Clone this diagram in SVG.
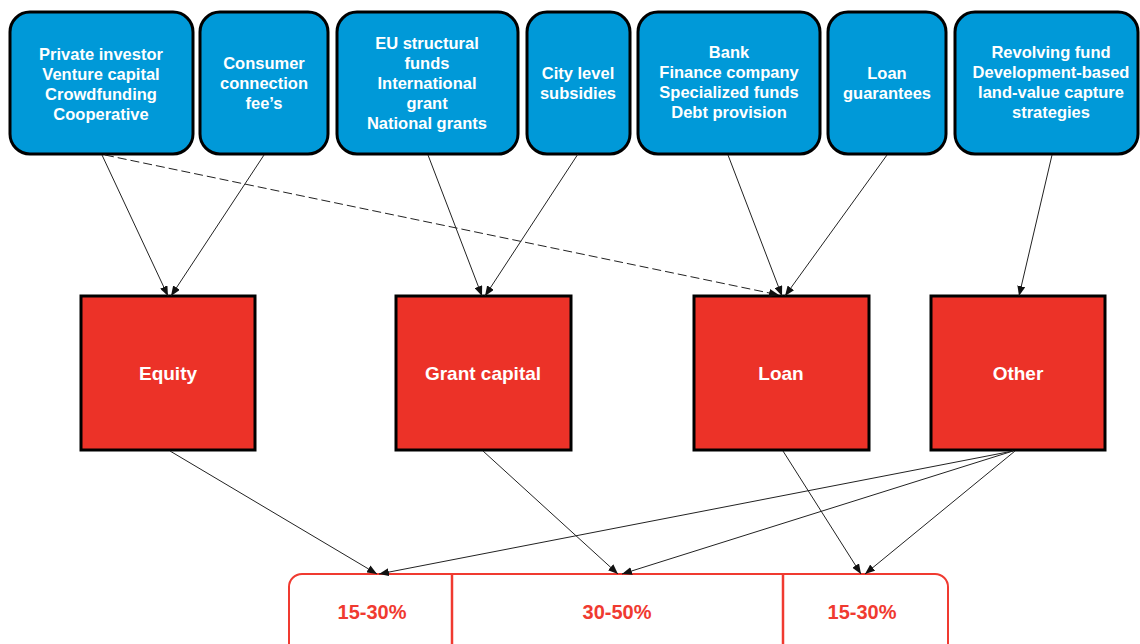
<svg xmlns="http://www.w3.org/2000/svg" width="1140" height="644" viewBox="0 0 1140 644">
<style>
.src rect{fill:#0099d8;stroke:#000;stroke-width:3}
.src text{fill:#fff;font-family:"Liberation Sans",Arial,sans-serif;font-weight:bold;font-size:16.5px;text-anchor:middle}
.cat rect{fill:#ec3228;stroke:#000;stroke-width:3}
.cat text{fill:#fff;font-family:"Liberation Sans",Arial,sans-serif;font-weight:bold;font-size:19px;text-anchor:middle}
.bar{fill:#fff;stroke:#f03a30;stroke-width:2}
.pct{fill:#f03a30;font-family:"Liberation Sans",Arial,sans-serif;font-weight:bold;font-size:20px;text-anchor:middle}
.conn line{stroke:#222;stroke-width:1;fill:none;marker-end:url(#ah)}
.conn .dash{stroke-dasharray:9 4}
</style>
<defs>
<marker id="ah" viewBox="0 0 10 8" refX="10" refY="4" markerWidth="10" markerHeight="8" orient="auto" markerUnits="userSpaceOnUse">
<path d="M0,0 L10,4 L0,8 Z" fill="#111"/>
</marker>
</defs>
<rect width="1140" height="644" fill="#fff"/>

<g id="src-private" class="src">
<rect x="10" y="12" width="183" height="142" rx="20"/>
<text x="101" y="60">Private investor</text>
<text x="101" y="80">Venture capital</text>
<text x="101" y="100">Crowdfunding</text>
<text x="101" y="120">Cooperative</text>
</g>
<g id="src-consumer" class="src">
<rect x="200" y="12" width="128" height="142" rx="20"/>
<text x="264" y="69">Consumer</text>
<text x="264" y="89">connection</text>
<text x="264" y="109">fee’s</text>
</g>
<g id="src-grants" class="src">
<rect x="337" y="12" width="181" height="142" rx="20"/>
<text x="427" y="49">EU structural</text>
<text x="427" y="69">funds</text>
<text x="427" y="89">International</text>
<text x="427" y="109">grant</text>
<text x="427" y="129">National grants</text>
</g>
<g id="src-city" class="src">
<rect x="527" y="12" width="103" height="142" rx="20"/>
<text x="578" y="79">City level</text>
<text x="578" y="99">subsidies</text>
</g>
<g id="src-bank" class="src">
<rect x="638" y="12" width="182" height="142" rx="20"/>
<text x="729" y="58">Bank</text>
<text x="729" y="78">Finance company</text>
<text x="729" y="98">Specialized funds</text>
<text x="729" y="118">Debt provision</text>
</g>
<g id="src-guarantees" class="src">
<rect x="828" y="12" width="118" height="142" rx="20"/>
<text x="887" y="79">Loan</text>
<text x="887" y="99">guarantees</text>
</g>
<g id="src-revolving" class="src">
<rect x="955" y="12" width="183" height="142" rx="20"/>
<text x="1051" y="58">Revolving fund</text>
<text x="1051" y="78">Development-based</text>
<text x="1051" y="98">land-value capture</text>
<text x="1051" y="118">strategies</text>
</g>

<g id="cat-equity" class="cat">
<rect x="81" y="296" width="174" height="154"/>
<text x="168" y="380">Equity</text>
</g>
<g id="cat-grant" class="cat">
<rect x="396" y="296" width="175" height="154"/>
<text x="483" y="380">Grant capital</text>
</g>
<g id="cat-loan" class="cat">
<rect x="694" y="296" width="175" height="154"/>
<text x="781" y="380">Loan</text>
</g>
<g id="cat-other" class="cat">
<rect x="931" y="296" width="174" height="154"/>
<text x="1018" y="380">Other</text>
</g>

<g id="share-bar">
<rect class="bar" x="289" y="574" width="659" height="110" rx="13"/>
<line x1="452" y1="574" x2="452" y2="644" stroke="#f03a30" stroke-width="2.5"/>
<line x1="783" y1="574" x2="783" y2="644" stroke="#f03a30" stroke-width="2.5"/>
</g>
<g id="share-equity"><text class="pct" x="372" y="619">15-30%</text></g>
<g id="share-grant"><text class="pct" x="617" y="619">30-50%</text></g>
<g id="share-loan"><text class="pct" x="862" y="619">15-30%</text></g>

<g id="connectors" class="conn">
<line x1="102" y1="155" x2="168" y2="296"/>
<line x1="264" y1="155" x2="171" y2="296"/>
<line class="dash" x1="105" y1="155" x2="779" y2="295"/>
<line x1="428" y1="155" x2="482" y2="296"/>
<line x1="578" y1="154" x2="485" y2="296"/>
<line x1="728" y1="155" x2="782" y2="296"/>
<line x1="887" y1="155" x2="785" y2="296"/>
<line x1="1052" y1="155" x2="1019" y2="296"/>
<line x1="170" y1="451" x2="377" y2="574"/>
<line x1="483" y1="451" x2="618" y2="574"/>
<line x1="783" y1="451" x2="861" y2="574"/>
<line x1="1013" y1="451" x2="379" y2="574"/>
<line x1="1013" y1="451" x2="622" y2="574"/>
<line x1="1015" y1="451" x2="865" y2="574"/>
</g>
</svg>
